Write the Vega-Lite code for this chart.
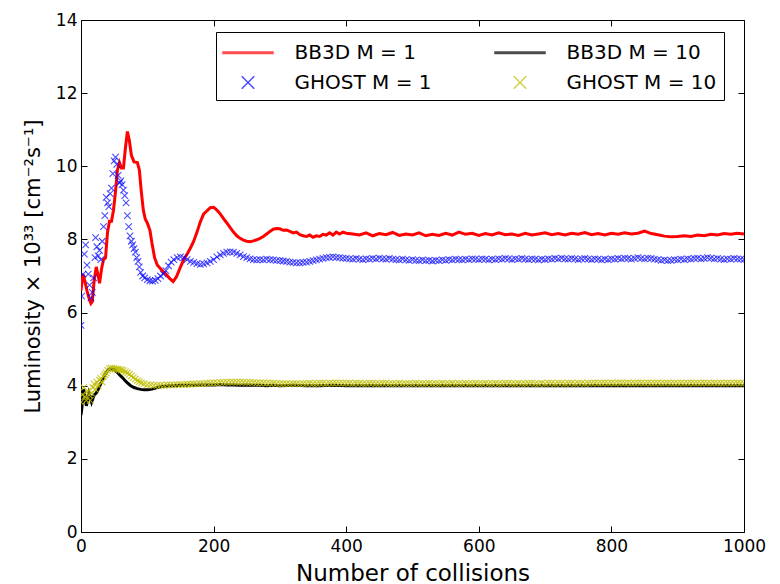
{
  "$schema": "https://vega.github.io/schema/vega-lite/v6.json",
  "width": 663,
  "height": 512,
  "autosize": {"type": "none"},
  "padding": {"left": 81, "top": 20, "right": 36, "bottom": 52},
  "background": "white",
  "config": {
    "view": {"stroke": "black", "strokeWidth": 1},
    "font": "DejaVu Sans",
    "axis": {
      "grid": false,
      "domainColor": "black",
      "tickColor": "black",
      "labelColor": "black",
      "titleColor": "black",
      "labelFont": "DejaVu Sans",
      "labelFontSize": 17,
      "titleFont": "DejaVu Sans",
      "titleFontWeight": "normal",
      "tickSize": -6,
      "labelFlush": false,
      "labelOverlap": false
    }
  },
  "resolve": {"axis": {"x": "independent", "y": "independent"}},
  "layer": [
    {
      "data": {"values": [
      {"s":"BB3D M=1","n":0,"L":6.6},{"s":"BB3D M=1","n":3,"L":7.05},{"s":"BB3D M=1","n":6,"L":6.85},{"s":"BB3D M=1","n":9,"L":6.6},{"s":"BB3D M=1","n":12,"L":6.4},{"s":"BB3D M=1","n":15,"L":6.25},{"s":"BB3D M=1","n":17,"L":6.3},{"s":"BB3D M=1","n":20,"L":6.9},{"s":"BB3D M=1","n":23,"L":7.25},{"s":"BB3D M=1","n":26,"L":7.0},{"s":"BB3D M=1","n":28,"L":6.8},{"s":"BB3D M=1","n":31,"L":7.2},{"s":"BB3D M=1","n":34,"L":7.45},{"s":"BB3D M=1","n":37,"L":7.5},{"s":"BB3D M=1","n":40,"L":8.2},{"s":"BB3D M=1","n":43,"L":8.5},{"s":"BB3D M=1","n":46,"L":8.5},{"s":"BB3D M=1","n":49,"L":8.8},{"s":"BB3D M=1","n":52,"L":9.3},{"s":"BB3D M=1","n":55,"L":9.9},{"s":"BB3D M=1","n":58,"L":10.1},{"s":"BB3D M=1","n":61,"L":9.95},{"s":"BB3D M=1","n":64,"L":9.95},{"s":"BB3D M=1","n":67,"L":10.5},{"s":"BB3D M=1","n":70,"L":10.95},{"s":"BB3D M=1","n":73,"L":10.7},{"s":"BB3D M=1","n":76,"L":10.3},{"s":"BB3D M=1","n":80,"L":10.12},{"s":"BB3D M=1","n":85,"L":10.1},{"s":"BB3D M=1","n":88,"L":9.9},{"s":"BB3D M=1","n":91,"L":9.3},{"s":"BB3D M=1","n":94,"L":8.8},{"s":"BB3D M=1","n":97,"L":8.55},{"s":"BB3D M=1","n":100,"L":8.45},{"s":"BB3D M=1","n":104,"L":8.25},{"s":"BB3D M=1","n":107,"L":7.9},{"s":"BB3D M=1","n":111,"L":7.5},{"s":"BB3D M=1","n":115,"L":7.3},{"s":"BB3D M=1","n":119,"L":7.22},{"s":"BB3D M=1","n":124,"L":7.12},{"s":"BB3D M=1","n":129,"L":7.03},{"s":"BB3D M=1","n":134,"L":6.93},{"s":"BB3D M=1","n":139,"L":6.85},{"s":"BB3D M=1","n":144,"L":6.98},{"s":"BB3D M=1","n":149,"L":7.2},{"s":"BB3D M=1","n":155,"L":7.45},{"s":"BB3D M=1","n":161,"L":7.63},{"s":"BB3D M=1","n":166,"L":7.8},{"s":"BB3D M=1","n":170,"L":7.95},{"s":"BB3D M=1","n":175,"L":8.2},{"s":"BB3D M=1","n":180,"L":8.48},{"s":"BB3D M=1","n":185,"L":8.7},{"s":"BB3D M=1","n":190,"L":8.78},{"s":"BB3D M=1","n":195,"L":8.87},{"s":"BB3D M=1","n":200,"L":8.88},{"s":"BB3D M=1","n":205,"L":8.8},{"s":"BB3D M=1","n":210,"L":8.7},{"s":"BB3D M=1","n":215,"L":8.57},{"s":"BB3D M=1","n":220,"L":8.45},{"s":"BB3D M=1","n":225,"L":8.32},{"s":"BB3D M=1","n":230,"L":8.2},{"s":"BB3D M=1","n":235,"L":8.1},{"s":"BB3D M=1","n":240,"L":8.03},{"s":"BB3D M=1","n":245,"L":7.98},{"s":"BB3D M=1","n":250,"L":7.95},{"s":"BB3D M=1","n":255,"L":7.94},{"s":"BB3D M=1","n":260,"L":7.96},{"s":"BB3D M=1","n":265,"L":7.99},{"s":"BB3D M=1","n":270,"L":8.03},{"s":"BB3D M=1","n":275,"L":8.08},{"s":"BB3D M=1","n":280,"L":8.15},{"s":"BB3D M=1","n":285,"L":8.22},{"s":"BB3D M=1","n":290,"L":8.28},{"s":"BB3D M=1","n":295,"L":8.3},{"s":"BB3D M=1","n":300,"L":8.29},{"s":"BB3D M=1","n":305,"L":8.25},{"s":"BB3D M=1","n":310,"L":8.26},{"s":"BB3D M=1","n":315,"L":8.22},{"s":"BB3D M=1","n":320,"L":8.18},{"s":"BB3D M=1","n":325,"L":8.2},{"s":"BB3D M=1","n":330,"L":8.13},{"s":"BB3D M=1","n":335,"L":8.1},{"s":"BB3D M=1","n":340,"L":8.08},{"s":"BB3D M=1","n":345,"L":8.12},{"s":"BB3D M=1","n":350,"L":8.06},{"s":"BB3D M=1","n":355,"L":8.1},{"s":"BB3D M=1","n":360,"L":8.08},{"s":"BB3D M=1","n":365,"L":8.14},{"s":"BB3D M=1","n":370,"L":8.12},{"s":"BB3D M=1","n":375,"L":8.18},{"s":"BB3D M=1","n":380,"L":8.12},{"s":"BB3D M=1","n":385,"L":8.2},{"s":"BB3D M=1","n":390,"L":8.15},{"s":"BB3D M=1","n":395,"L":8.2},{"s":"BB3D M=1","n":400,"L":8.17},
      {"s":"BB3D M=1","n":410,"L":8.15},{"s":"BB3D M=1","n":420,"L":8.12},{"s":"BB3D M=1","n":430,"L":8.18},{"s":"BB3D M=1","n":440,"L":8.1},{"s":"BB3D M=1","n":450,"L":8.16},{"s":"BB3D M=1","n":460,"L":8.13},{"s":"BB3D M=1","n":470,"L":8.19},{"s":"BB3D M=1","n":480,"L":8.11},{"s":"BB3D M=1","n":490,"L":8.15},{"s":"BB3D M=1","n":500,"L":8.12},{"s":"BB3D M=1","n":510,"L":8.18},{"s":"BB3D M=1","n":520,"L":8.1},{"s":"BB3D M=1","n":530,"L":8.14},{"s":"BB3D M=1","n":540,"L":8.11},{"s":"BB3D M=1","n":550,"L":8.17},{"s":"BB3D M=1","n":560,"L":8.12},{"s":"BB3D M=1","n":570,"L":8.2},{"s":"BB3D M=1","n":580,"L":8.14},{"s":"BB3D M=1","n":590,"L":8.17},{"s":"BB3D M=1","n":600,"L":8.11},{"s":"BB3D M=1","n":610,"L":8.16},{"s":"BB3D M=1","n":620,"L":8.12},{"s":"BB3D M=1","n":630,"L":8.18},{"s":"BB3D M=1","n":640,"L":8.13},{"s":"BB3D M=1","n":650,"L":8.15},{"s":"BB3D M=1","n":660,"L":8.11},{"s":"BB3D M=1","n":670,"L":8.17},{"s":"BB3D M=1","n":680,"L":8.12},{"s":"BB3D M=1","n":690,"L":8.15},{"s":"BB3D M=1","n":700,"L":8.18},{"s":"BB3D M=1","n":710,"L":8.13},{"s":"BB3D M=1","n":720,"L":8.16},{"s":"BB3D M=1","n":730,"L":8.12},{"s":"BB3D M=1","n":740,"L":8.17},{"s":"BB3D M=1","n":750,"L":8.14},{"s":"BB3D M=1","n":760,"L":8.19},{"s":"BB3D M=1","n":770,"L":8.13},{"s":"BB3D M=1","n":780,"L":8.16},{"s":"BB3D M=1","n":790,"L":8.12},{"s":"BB3D M=1","n":800,"L":8.17},{"s":"BB3D M=1","n":810,"L":8.14},{"s":"BB3D M=1","n":820,"L":8.18},{"s":"BB3D M=1","n":830,"L":8.15},{"s":"BB3D M=1","n":840,"L":8.17},{"s":"BB3D M=1","n":850,"L":8.23},{"s":"BB3D M=1","n":860,"L":8.16},{"s":"BB3D M=1","n":870,"L":8.13},{"s":"BB3D M=1","n":880,"L":8.09},{"s":"BB3D M=1","n":890,"L":8.07},{"s":"BB3D M=1","n":900,"L":8.08},{"s":"BB3D M=1","n":910,"L":8.1},{"s":"BB3D M=1","n":920,"L":8.08},{"s":"BB3D M=1","n":930,"L":8.12},{"s":"BB3D M=1","n":940,"L":8.1},{"s":"BB3D M=1","n":950,"L":8.14},{"s":"BB3D M=1","n":960,"L":8.12},{"s":"BB3D M=1","n":970,"L":8.16},{"s":"BB3D M=1","n":980,"L":8.14},{"s":"BB3D M=1","n":990,"L":8.17},{"s":"BB3D M=1","n":1000,"L":8.15}
      ]},
      "mark": {"type": "line", "strokeWidth": 3, "clip": true},
      "encoding": {
        "x": {"field": "n", "type": "quantitative", "scale": {"domain": [0, 1000], "nice": false},
              "axis": {"orient": "bottom", "title": "Number of collisions", "titleFontSize": 23, "values": [0,200,400,600,800,1000], "format": "d", "labelPadding": 12, "titleX": 331.5, "titleY": 48, "titleBaseline": "alphabetic", "titleAnchor": "middle", "titleAlign": "center"}},
        "y": {"field": "L", "type": "quantitative", "scale": {"domain": [0, 14], "nice": false},
              "axis": {"orient": "left", "title": "Luminosity × 10³³ [cm⁻²s⁻¹]", "titleFontSize": 21, "values": [0,2,4,6,8,10,12,14], "format": "d", "labelPadding": 10, "titleX": -42, "titleY": 246, "titleBaseline": "alphabetic", "titleAngle": -90, "titleAlign": "center"}},
        "color": {"field": "s", "type": "nominal",
          "scale": {"domain": ["BB3D M=1", "GHOST M=1", "BB3D M=10", "GHOST M=10"], "range": ["#ff0000", "#0000ff", "#000000", "#bfbf00"]},
          "legend": {"title": null, "orient": "none", "legendX": 135, "legendY": 12, "columns": 2, "strokeColor": "black", "fillColor": "white", "padding": 7, "cornerRadius": 0, "labelFontSize": 20, "labelFont": "DejaVu Sans", "labelColor": "black",
            "labelExpr": "replace(datum.label, '=', ' = ')",
            "symbolSize": 625, "symbolStrokeWidth": 1.5, "symbolOpacity": 1, "symbolFillColor": "transparent",
            "symbolOffset": 11.5, "labelOffset": 33, "columnPadding": 60, "rowPadding": 6}
        }
      }
    },
    {
      "data": {"values": [
      {"s":"GHOST M=1","n":0,"L":5.65},{"s":"GHOST M=1","n":1,"L":6.45},{"s":"GHOST M=1","n":3,"L":7.05},{"s":"GHOST M=1","n":5,"L":7.6},{"s":"GHOST M=1","n":7,"L":7.85},{"s":"GHOST M=1","n":9,"L":7.3},{"s":"GHOST M=1","n":11,"L":7.05},{"s":"GHOST M=1","n":13,"L":6.75},{"s":"GHOST M=1","n":15,"L":6.4},{"s":"GHOST M=1","n":17,"L":6.55},{"s":"GHOST M=1","n":19,"L":6.95},{"s":"GHOST M=1","n":21,"L":7.5},{"s":"GHOST M=1","n":22,"L":8.05},{"s":"GHOST M=1","n":24,"L":7.8},{"s":"GHOST M=1","n":26,"L":7.55},{"s":"GHOST M=1","n":28,"L":7.7},{"s":"GHOST M=1","n":30,"L":7.45},{"s":"GHOST M=1","n":32,"L":7.95},{"s":"GHOST M=1","n":34,"L":8.35},{"s":"GHOST M=1","n":36,"L":8.65},{"s":"GHOST M=1","n":38,"L":9.15},{"s":"GHOST M=1","n":40,"L":9.0},{"s":"GHOST M=1","n":42,"L":8.9},{"s":"GHOST M=1","n":44,"L":9.25},{"s":"GHOST M=1","n":46,"L":9.4},{"s":"GHOST M=1","n":48,"L":9.8},{"s":"GHOST M=1","n":50,"L":10.15},{"s":"GHOST M=1","n":52,"L":10.25},{"s":"GHOST M=1","n":54,"L":10.05},{"s":"GHOST M=1","n":56,"L":9.75},{"s":"GHOST M=1","n":58,"L":9.55},{"s":"GHOST M=1","n":60,"L":9.6},{"s":"GHOST M=1","n":62,"L":9.5},{"s":"GHOST M=1","n":64,"L":9.35},{"s":"GHOST M=1","n":66,"L":9.2},{"s":"GHOST M=1","n":68,"L":9.0},{"s":"GHOST M=1","n":70,"L":8.65},{"s":"GHOST M=1","n":72,"L":8.35},{"s":"GHOST M=1","n":74,"L":8.1},{"s":"GHOST M=1","n":76,"L":7.95},{"s":"GHOST M=1","n":78,"L":7.85},{"s":"GHOST M=1","n":80,"L":7.75},{"s":"GHOST M=1","n":82,"L":7.65},{"s":"GHOST M=1","n":84,"L":7.5},{"s":"GHOST M=1","n":86,"L":7.4},{"s":"GHOST M=1","n":88,"L":7.25},{"s":"GHOST M=1","n":90,"L":7.1},{"s":"GHOST M=1","n":93,"L":7.0},{"s":"GHOST M=1","n":96,"L":6.95},{"s":"GHOST M=1","n":100,"L":6.9},{"s":"GHOST M=1","n":104,"L":6.87},{"s":"GHOST M=1","n":108,"L":6.86},{"s":"GHOST M=1","n":112,"L":6.88},{"s":"GHOST M=1","n":116,"L":6.93},{"s":"GHOST M=1","n":120,"L":7.0},{"s":"GHOST M=1","n":124,"L":7.05},{"s":"GHOST M=1","n":128,"L":7.15},{"s":"GHOST M=1","n":132,"L":7.28},{"s":"GHOST M=1","n":136,"L":7.38},{"s":"GHOST M=1","n":140,"L":7.45},{"s":"GHOST M=1","n":145,"L":7.5},{"s":"GHOST M=1","n":150,"L":7.52},{"s":"GHOST M=1","n":155,"L":7.5},{"s":"GHOST M=1","n":160,"L":7.45},{"s":"GHOST M=1","n":165,"L":7.4},{"s":"GHOST M=1","n":170,"L":7.37},{"s":"GHOST M=1","n":175,"L":7.34},{"s":"GHOST M=1","n":180,"L":7.32},{"s":"GHOST M=1","n":185,"L":7.33},{"s":"GHOST M=1","n":190,"L":7.36},{"s":"GHOST M=1","n":195,"L":7.4},{"s":"GHOST M=1","n":200,"L":7.45},{"s":"GHOST M=1","n":205,"L":7.52},{"s":"GHOST M=1","n":210,"L":7.58},{"s":"GHOST M=1","n":215,"L":7.62},{"s":"GHOST M=1","n":220,"L":7.65},{"s":"GHOST M=1","n":225,"L":7.66},{"s":"GHOST M=1","n":230,"L":7.65},{"s":"GHOST M=1","n":235,"L":7.62},{"s":"GHOST M=1","n":240,"L":7.58},{"s":"GHOST M=1","n":245,"L":7.53},{"s":"GHOST M=1","n":250,"L":7.5},{"s":"GHOST M=1","n":255,"L":7.47},{"s":"GHOST M=1","n":260,"L":7.45},{"s":"GHOST M=1","n":265,"L":7.44},{"s":"GHOST M=1","n":270,"L":7.45},{"s":"GHOST M=1","n":275,"L":7.44},{"s":"GHOST M=1","n":280,"L":7.46},{"s":"GHOST M=1","n":285,"L":7.45},{"s":"GHOST M=1","n":290,"L":7.44},{"s":"GHOST M=1","n":295,"L":7.43},{"s":"GHOST M=1","n":300,"L":7.42},{"s":"GHOST M=1","n":305,"L":7.41},{"s":"GHOST M=1","n":310,"L":7.4},{"s":"GHOST M=1","n":315,"L":7.38},{"s":"GHOST M=1","n":320,"L":7.37},{"s":"GHOST M=1","n":325,"L":7.36},{"s":"GHOST M=1","n":330,"L":7.36},{"s":"GHOST M=1","n":335,"L":7.37},{"s":"GHOST M=1","n":340,"L":7.38},{"s":"GHOST M=1","n":345,"L":7.4},{"s":"GHOST M=1","n":350,"L":7.42},{"s":"GHOST M=1","n":355,"L":7.44},{"s":"GHOST M=1","n":360,"L":7.46},{"s":"GHOST M=1","n":365,"L":7.48},{"s":"GHOST M=1","n":370,"L":7.5},{"s":"GHOST M=1","n":375,"L":7.51},{"s":"GHOST M=1","n":380,"L":7.52},{"s":"GHOST M=1","n":385,"L":7.51},{"s":"GHOST M=1","n":390,"L":7.5},{"s":"GHOST M=1","n":395,"L":7.49},{"s":"GHOST M=1","n":400,"L":7.48},
      {"s":"GHOST M=1","n":405,"L":7.47},{"s":"GHOST M=1","n":410,"L":7.46},{"s":"GHOST M=1","n":415,"L":7.48},{"s":"GHOST M=1","n":420,"L":7.46},{"s":"GHOST M=1","n":425,"L":7.45},{"s":"GHOST M=1","n":430,"L":7.47},{"s":"GHOST M=1","n":435,"L":7.46},{"s":"GHOST M=1","n":440,"L":7.48},{"s":"GHOST M=1","n":445,"L":7.47},{"s":"GHOST M=1","n":450,"L":7.49},{"s":"GHOST M=1","n":455,"L":7.47},{"s":"GHOST M=1","n":460,"L":7.46},{"s":"GHOST M=1","n":465,"L":7.48},{"s":"GHOST M=1","n":470,"L":7.46},{"s":"GHOST M=1","n":475,"L":7.45},{"s":"GHOST M=1","n":480,"L":7.44},{"s":"GHOST M=1","n":485,"L":7.46},{"s":"GHOST M=1","n":490,"L":7.44},{"s":"GHOST M=1","n":495,"L":7.43},{"s":"GHOST M=1","n":500,"L":7.45},{"s":"GHOST M=1","n":505,"L":7.43},{"s":"GHOST M=1","n":510,"L":7.42},{"s":"GHOST M=1","n":515,"L":7.44},{"s":"GHOST M=1","n":520,"L":7.42},{"s":"GHOST M=1","n":525,"L":7.43},{"s":"GHOST M=1","n":530,"L":7.41},{"s":"GHOST M=1","n":535,"L":7.43},{"s":"GHOST M=1","n":540,"L":7.42},{"s":"GHOST M=1","n":545,"L":7.44},{"s":"GHOST M=1","n":550,"L":7.43},{"s":"GHOST M=1","n":555,"L":7.45},{"s":"GHOST M=1","n":560,"L":7.44},{"s":"GHOST M=1","n":565,"L":7.46},{"s":"GHOST M=1","n":570,"L":7.45},{"s":"GHOST M=1","n":575,"L":7.44},{"s":"GHOST M=1","n":580,"L":7.46},{"s":"GHOST M=1","n":585,"L":7.45},{"s":"GHOST M=1","n":590,"L":7.47},{"s":"GHOST M=1","n":595,"L":7.46},{"s":"GHOST M=1","n":600,"L":7.45},{"s":"GHOST M=1","n":605,"L":7.47},{"s":"GHOST M=1","n":610,"L":7.46},{"s":"GHOST M=1","n":615,"L":7.44},{"s":"GHOST M=1","n":620,"L":7.46},{"s":"GHOST M=1","n":625,"L":7.45},{"s":"GHOST M=1","n":630,"L":7.47},{"s":"GHOST M=1","n":635,"L":7.46},{"s":"GHOST M=1","n":640,"L":7.48},{"s":"GHOST M=1","n":645,"L":7.47},{"s":"GHOST M=1","n":650,"L":7.45},{"s":"GHOST M=1","n":655,"L":7.47},{"s":"GHOST M=1","n":660,"L":7.46},{"s":"GHOST M=1","n":665,"L":7.48},{"s":"GHOST M=1","n":670,"L":7.46},{"s":"GHOST M=1","n":675,"L":7.45},{"s":"GHOST M=1","n":680,"L":7.47},{"s":"GHOST M=1","n":685,"L":7.46},{"s":"GHOST M=1","n":690,"L":7.44},{"s":"GHOST M=1","n":695,"L":7.46},{"s":"GHOST M=1","n":700,"L":7.45},{"s":"GHOST M=1","n":705,"L":7.47},{"s":"GHOST M=1","n":710,"L":7.46},{"s":"GHOST M=1","n":715,"L":7.48},{"s":"GHOST M=1","n":720,"L":7.47},{"s":"GHOST M=1","n":725,"L":7.49},{"s":"GHOST M=1","n":730,"L":7.47},{"s":"GHOST M=1","n":735,"L":7.46},{"s":"GHOST M=1","n":740,"L":7.48},{"s":"GHOST M=1","n":745,"L":7.47},{"s":"GHOST M=1","n":750,"L":7.45},{"s":"GHOST M=1","n":755,"L":7.47},{"s":"GHOST M=1","n":760,"L":7.48},{"s":"GHOST M=1","n":765,"L":7.46},{"s":"GHOST M=1","n":770,"L":7.45},{"s":"GHOST M=1","n":775,"L":7.47},{"s":"GHOST M=1","n":780,"L":7.46},{"s":"GHOST M=1","n":785,"L":7.44},{"s":"GHOST M=1","n":790,"L":7.46},{"s":"GHOST M=1","n":795,"L":7.45},{"s":"GHOST M=1","n":800,"L":7.47},{"s":"GHOST M=1","n":805,"L":7.46},{"s":"GHOST M=1","n":810,"L":7.48},{"s":"GHOST M=1","n":815,"L":7.47},{"s":"GHOST M=1","n":820,"L":7.49},{"s":"GHOST M=1","n":825,"L":7.48},{"s":"GHOST M=1","n":830,"L":7.46},{"s":"GHOST M=1","n":835,"L":7.48},{"s":"GHOST M=1","n":840,"L":7.5},{"s":"GHOST M=1","n":845,"L":7.48},{"s":"GHOST M=1","n":850,"L":7.47},{"s":"GHOST M=1","n":855,"L":7.49},{"s":"GHOST M=1","n":860,"L":7.48},{"s":"GHOST M=1","n":865,"L":7.46},{"s":"GHOST M=1","n":870,"L":7.45},{"s":"GHOST M=1","n":875,"L":7.43},{"s":"GHOST M=1","n":880,"L":7.44},{"s":"GHOST M=1","n":885,"L":7.42},{"s":"GHOST M=1","n":890,"L":7.43},{"s":"GHOST M=1","n":895,"L":7.45},{"s":"GHOST M=1","n":900,"L":7.44},{"s":"GHOST M=1","n":905,"L":7.46},{"s":"GHOST M=1","n":910,"L":7.45},{"s":"GHOST M=1","n":915,"L":7.47},{"s":"GHOST M=1","n":920,"L":7.46},{"s":"GHOST M=1","n":925,"L":7.48},{"s":"GHOST M=1","n":930,"L":7.49},{"s":"GHOST M=1","n":935,"L":7.47},{"s":"GHOST M=1","n":940,"L":7.48},{"s":"GHOST M=1","n":945,"L":7.5},{"s":"GHOST M=1","n":950,"L":7.49},{"s":"GHOST M=1","n":955,"L":7.47},{"s":"GHOST M=1","n":960,"L":7.48},{"s":"GHOST M=1","n":965,"L":7.46},{"s":"GHOST M=1","n":970,"L":7.45},{"s":"GHOST M=1","n":975,"L":7.47},{"s":"GHOST M=1","n":980,"L":7.46},{"s":"GHOST M=1","n":985,"L":7.48},{"s":"GHOST M=1","n":990,"L":7.47},{"s":"GHOST M=1","n":995,"L":7.46},{"s":"GHOST M=1","n":1000,"L":7.45}
      ]},
      "mark": {"type": "point", "filled": false, "size": 169, "strokeWidth": 1.1, "opacity": 0.7, "clip": true},
      "encoding": {
        "x": {"field": "n", "type": "quantitative", "axis": null},
        "y": {"field": "L", "type": "quantitative", "axis": null},
        "color": {"field": "s", "type": "nominal"},
        "shape": {"field": "s", "type": "nominal",
          "scale": {"domain": ["BB3D M=1", "GHOST M=1", "BB3D M=10", "GHOST M=10"], "range": ["M-2,-0.06H2V0.06H-2Z", "M-0.5,-0.5L0.5,0.5M-0.5,0.5L0.5,-0.5", "M-2,-0.06H2V0.06H-2Z", "M-0.5,-0.5L0.5,0.5M-0.5,0.5L0.5,-0.5"]},
          "legend": {"title": null, "orient": "none", "legendX": 135, "legendY": 12, "columns": 2, "strokeColor": "black", "fillColor": "white", "padding": 7, "cornerRadius": 0, "labelFontSize": 20, "labelFont": "DejaVu Sans", "labelColor": "black",
            "labelExpr": "replace(datum.label, '=', ' = ')",
            "symbolSize": 625, "symbolStrokeWidth": 1.5, "symbolOpacity": 1, "symbolFillColor": "transparent",
            "symbolOffset": 11.5, "labelOffset": 33, "columnPadding": 60, "rowPadding": 6}
        }
      }
    },
    {
      "data": {"values": [
      {"s":"BB3D M=10","n":0,"L":3.2},{"s":"BB3D M=10","n":2,"L":3.5},{"s":"BB3D M=10","n":4,"L":3.9},{"s":"BB3D M=10","n":6,"L":3.7},{"s":"BB3D M=10","n":8,"L":3.45},{"s":"BB3D M=10","n":10,"L":3.6},{"s":"BB3D M=10","n":12,"L":3.8},{"s":"BB3D M=10","n":14,"L":3.7},{"s":"BB3D M=10","n":16,"L":3.55},{"s":"BB3D M=10","n":18,"L":3.65},{"s":"BB3D M=10","n":20,"L":3.75},{"s":"BB3D M=10","n":23,"L":3.8},{"s":"BB3D M=10","n":26,"L":3.9},{"s":"BB3D M=10","n":29,"L":4.02},{"s":"BB3D M=10","n":32,"L":4.15},{"s":"BB3D M=10","n":35,"L":4.27},{"s":"BB3D M=10","n":38,"L":4.36},{"s":"BB3D M=10","n":41,"L":4.43},{"s":"BB3D M=10","n":44,"L":4.46},{"s":"BB3D M=10","n":47,"L":4.46},{"s":"BB3D M=10","n":50,"L":4.44},{"s":"BB3D M=10","n":54,"L":4.38},{"s":"BB3D M=10","n":58,"L":4.3},{"s":"BB3D M=10","n":62,"L":4.23},{"s":"BB3D M=10","n":66,"L":4.15},{"s":"BB3D M=10","n":70,"L":4.08},{"s":"BB3D M=10","n":75,"L":4.0},{"s":"BB3D M=10","n":80,"L":3.95},{"s":"BB3D M=10","n":85,"L":3.92},{"s":"BB3D M=10","n":90,"L":3.9},{"s":"BB3D M=10","n":95,"L":3.89},{"s":"BB3D M=10","n":100,"L":3.89},{"s":"BB3D M=10","n":105,"L":3.9},{"s":"BB3D M=10","n":110,"L":3.92},{"s":"BB3D M=10","n":115,"L":3.95},{"s":"BB3D M=10","n":120,"L":3.97},{"s":"BB3D M=10","n":130,"L":3.99},{"s":"BB3D M=10","n":140,"L":4.0},{"s":"BB3D M=10","n":150,"L":4.01},
      {"s":"BB3D M=10","n":160,"L":4.01},{"s":"BB3D M=10","n":170,"L":4.01},{"s":"BB3D M=10","n":180,"L":4.02},{"s":"BB3D M=10","n":190,"L":4.02},{"s":"BB3D M=10","n":200,"L":4.02},{"s":"BB3D M=10","n":210,"L":4.03},{"s":"BB3D M=10","n":220,"L":4.02},{"s":"BB3D M=10","n":230,"L":4.02},{"s":"BB3D M=10","n":240,"L":4.01},{"s":"BB3D M=10","n":250,"L":4.02},{"s":"BB3D M=10","n":260,"L":4.01},{"s":"BB3D M=10","n":270,"L":4.01},{"s":"BB3D M=10","n":280,"L":4.0},{"s":"BB3D M=10","n":290,"L":4.01},{"s":"BB3D M=10","n":300,"L":4.0},{"s":"BB3D M=10","n":320,"L":4.01},{"s":"BB3D M=10","n":340,"L":4.0},{"s":"BB3D M=10","n":360,"L":4.0},{"s":"BB3D M=10","n":380,"L":4.01},{"s":"BB3D M=10","n":400,"L":4.0},{"s":"BB3D M=10","n":420,"L":4.0},{"s":"BB3D M=10","n":440,"L":4.0},{"s":"BB3D M=10","n":460,"L":4.0},{"s":"BB3D M=10","n":480,"L":4.0},{"s":"BB3D M=10","n":500,"L":4.0},{"s":"BB3D M=10","n":520,"L":4.0},{"s":"BB3D M=10","n":540,"L":4.0},{"s":"BB3D M=10","n":560,"L":4.0},{"s":"BB3D M=10","n":580,"L":4.0},{"s":"BB3D M=10","n":600,"L":4.0},{"s":"BB3D M=10","n":620,"L":4.0},{"s":"BB3D M=10","n":640,"L":4.0},{"s":"BB3D M=10","n":660,"L":4.0},{"s":"BB3D M=10","n":680,"L":4.0},{"s":"BB3D M=10","n":700,"L":4.0},{"s":"BB3D M=10","n":720,"L":4.0},{"s":"BB3D M=10","n":740,"L":4.0},{"s":"BB3D M=10","n":760,"L":4.0},{"s":"BB3D M=10","n":780,"L":4.0},{"s":"BB3D M=10","n":800,"L":4.0},{"s":"BB3D M=10","n":820,"L":4.0},{"s":"BB3D M=10","n":840,"L":4.0},{"s":"BB3D M=10","n":860,"L":4.0},{"s":"BB3D M=10","n":880,"L":4.0},{"s":"BB3D M=10","n":900,"L":4.0},{"s":"BB3D M=10","n":920,"L":4.0},{"s":"BB3D M=10","n":940,"L":4.0},{"s":"BB3D M=10","n":960,"L":4.0},{"s":"BB3D M=10","n":980,"L":4.0},{"s":"BB3D M=10","n":1000,"L":4.0}
      ]},
      "mark": {"type": "line", "strokeWidth": 3, "clip": true},
      "encoding": {
        "x": {"field": "n", "type": "quantitative", "axis": null},
        "y": {"field": "L", "type": "quantitative", "axis": null},
        "color": {"field": "s", "type": "nominal"}
      }
    },
    {
      "data": {"values": [
      {"s":"GHOST M=10","n":0,"L":3.55},{"s":"GHOST M=10","n":2,"L":3.75},{"s":"GHOST M=10","n":4,"L":3.95},{"s":"GHOST M=10","n":6,"L":3.7},{"s":"GHOST M=10","n":8,"L":3.6},{"s":"GHOST M=10","n":10,"L":3.85},{"s":"GHOST M=10","n":12,"L":3.75},{"s":"GHOST M=10","n":14,"L":3.6},{"s":"GHOST M=10","n":16,"L":3.8},{"s":"GHOST M=10","n":18,"L":3.95},{"s":"GHOST M=10","n":20,"L":4.05},{"s":"GHOST M=10","n":22,"L":3.9},{"s":"GHOST M=10","n":24,"L":4.1},{"s":"GHOST M=10","n":26,"L":4.0},{"s":"GHOST M=10","n":28,"L":4.15},{"s":"GHOST M=10","n":30,"L":4.2},{"s":"GHOST M=10","n":32,"L":4.1},{"s":"GHOST M=10","n":34,"L":4.25},{"s":"GHOST M=10","n":36,"L":4.3},{"s":"GHOST M=10","n":38,"L":4.35},{"s":"GHOST M=10","n":40,"L":4.42},{"s":"GHOST M=10","n":43,"L":4.47},{"s":"GHOST M=10","n":46,"L":4.48},{"s":"GHOST M=10","n":49,"L":4.47},{"s":"GHOST M=10","n":52,"L":4.46},{"s":"GHOST M=10","n":55,"L":4.45},{"s":"GHOST M=10","n":58,"L":4.44},{"s":"GHOST M=10","n":61,"L":4.43},{"s":"GHOST M=10","n":64,"L":4.41},{"s":"GHOST M=10","n":67,"L":4.38},{"s":"GHOST M=10","n":70,"L":4.35},{"s":"GHOST M=10","n":73,"L":4.31},{"s":"GHOST M=10","n":76,"L":4.27},{"s":"GHOST M=10","n":79,"L":4.22},{"s":"GHOST M=10","n":82,"L":4.18},{"s":"GHOST M=10","n":85,"L":4.14},{"s":"GHOST M=10","n":88,"L":4.11},{"s":"GHOST M=10","n":91,"L":4.08},{"s":"GHOST M=10","n":95,"L":4.05},{"s":"GHOST M=10","n":100,"L":4.03},{"s":"GHOST M=10","n":105,"L":4.02},{"s":"GHOST M=10","n":110,"L":4.01},{"s":"GHOST M=10","n":115,"L":4.01},{"s":"GHOST M=10","n":120,"L":4.01},{"s":"GHOST M=10","n":125,"L":4.01},{"s":"GHOST M=10","n":130,"L":4.02},{"s":"GHOST M=10","n":135,"L":4.02},{"s":"GHOST M=10","n":140,"L":4.02},{"s":"GHOST M=10","n":145,"L":4.03},{"s":"GHOST M=10","n":150,"L":4.03},
      {"s":"GHOST M=10","n":155,"L":4.03},{"s":"GHOST M=10","n":160,"L":4.04},{"s":"GHOST M=10","n":165,"L":4.04},{"s":"GHOST M=10","n":170,"L":4.05},{"s":"GHOST M=10","n":175,"L":4.05},{"s":"GHOST M=10","n":180,"L":4.06},{"s":"GHOST M=10","n":185,"L":4.06},{"s":"GHOST M=10","n":190,"L":4.07},{"s":"GHOST M=10","n":195,"L":4.07},{"s":"GHOST M=10","n":200,"L":4.08},{"s":"GHOST M=10","n":205,"L":4.08},{"s":"GHOST M=10","n":210,"L":4.09},{"s":"GHOST M=10","n":215,"L":4.09},{"s":"GHOST M=10","n":220,"L":4.1},{"s":"GHOST M=10","n":225,"L":4.1},{"s":"GHOST M=10","n":230,"L":4.1},{"s":"GHOST M=10","n":235,"L":4.1},{"s":"GHOST M=10","n":240,"L":4.1},{"s":"GHOST M=10","n":245,"L":4.1},{"s":"GHOST M=10","n":250,"L":4.09},{"s":"GHOST M=10","n":255,"L":4.09},{"s":"GHOST M=10","n":260,"L":4.09},{"s":"GHOST M=10","n":265,"L":4.08},{"s":"GHOST M=10","n":270,"L":4.08},{"s":"GHOST M=10","n":275,"L":4.08},{"s":"GHOST M=10","n":280,"L":4.07},{"s":"GHOST M=10","n":285,"L":4.07},{"s":"GHOST M=10","n":290,"L":4.07},{"s":"GHOST M=10","n":295,"L":4.06},{"s":"GHOST M=10","n":300,"L":4.06},
      {"s":"GHOST M=10","n":305,"L":4.06},{"s":"GHOST M=10","n":310,"L":4.06},{"s":"GHOST M=10","n":315,"L":4.05},{"s":"GHOST M=10","n":320,"L":4.06},{"s":"GHOST M=10","n":325,"L":4.06},{"s":"GHOST M=10","n":330,"L":4.05},{"s":"GHOST M=10","n":335,"L":4.06},{"s":"GHOST M=10","n":340,"L":4.06},{"s":"GHOST M=10","n":345,"L":4.07},{"s":"GHOST M=10","n":350,"L":4.06},{"s":"GHOST M=10","n":355,"L":4.06},{"s":"GHOST M=10","n":360,"L":4.07},{"s":"GHOST M=10","n":365,"L":4.07},{"s":"GHOST M=10","n":370,"L":4.06},{"s":"GHOST M=10","n":375,"L":4.07},{"s":"GHOST M=10","n":380,"L":4.07},{"s":"GHOST M=10","n":385,"L":4.08},{"s":"GHOST M=10","n":390,"L":4.07},{"s":"GHOST M=10","n":395,"L":4.07},{"s":"GHOST M=10","n":400,"L":4.07},{"s":"GHOST M=10","n":405,"L":4.07},{"s":"GHOST M=10","n":410,"L":4.06},{"s":"GHOST M=10","n":415,"L":4.07},{"s":"GHOST M=10","n":420,"L":4.07},{"s":"GHOST M=10","n":425,"L":4.06},{"s":"GHOST M=10","n":430,"L":4.06},{"s":"GHOST M=10","n":435,"L":4.07},{"s":"GHOST M=10","n":440,"L":4.07},{"s":"GHOST M=10","n":445,"L":4.06},{"s":"GHOST M=10","n":450,"L":4.06},{"s":"GHOST M=10","n":455,"L":4.07},{"s":"GHOST M=10","n":460,"L":4.07},{"s":"GHOST M=10","n":465,"L":4.06},{"s":"GHOST M=10","n":470,"L":4.06},{"s":"GHOST M=10","n":475,"L":4.06},{"s":"GHOST M=10","n":480,"L":4.07},{"s":"GHOST M=10","n":485,"L":4.06},{"s":"GHOST M=10","n":490,"L":4.06},{"s":"GHOST M=10","n":495,"L":4.06},{"s":"GHOST M=10","n":500,"L":4.06},{"s":"GHOST M=10","n":505,"L":4.07},{"s":"GHOST M=10","n":510,"L":4.06},{"s":"GHOST M=10","n":515,"L":4.06},{"s":"GHOST M=10","n":520,"L":4.06},{"s":"GHOST M=10","n":525,"L":4.07},{"s":"GHOST M=10","n":530,"L":4.06},{"s":"GHOST M=10","n":535,"L":4.06},{"s":"GHOST M=10","n":540,"L":4.06},{"s":"GHOST M=10","n":545,"L":4.07},{"s":"GHOST M=10","n":550,"L":4.06},{"s":"GHOST M=10","n":555,"L":4.06},{"s":"GHOST M=10","n":560,"L":4.07},{"s":"GHOST M=10","n":565,"L":4.06},{"s":"GHOST M=10","n":570,"L":4.06},{"s":"GHOST M=10","n":575,"L":4.06},{"s":"GHOST M=10","n":580,"L":4.07},{"s":"GHOST M=10","n":585,"L":4.06},{"s":"GHOST M=10","n":590,"L":4.06},{"s":"GHOST M=10","n":595,"L":4.07},{"s":"GHOST M=10","n":600,"L":4.06},{"s":"GHOST M=10","n":605,"L":4.06},{"s":"GHOST M=10","n":610,"L":4.07},{"s":"GHOST M=10","n":615,"L":4.06},{"s":"GHOST M=10","n":620,"L":4.06},{"s":"GHOST M=10","n":625,"L":4.07},{"s":"GHOST M=10","n":630,"L":4.06},{"s":"GHOST M=10","n":635,"L":4.06},{"s":"GHOST M=10","n":640,"L":4.07},{"s":"GHOST M=10","n":645,"L":4.07},{"s":"GHOST M=10","n":650,"L":4.06},{"s":"GHOST M=10","n":655,"L":4.06},{"s":"GHOST M=10","n":660,"L":4.07},{"s":"GHOST M=10","n":665,"L":4.06},{"s":"GHOST M=10","n":670,"L":4.06},{"s":"GHOST M=10","n":675,"L":4.07},{"s":"GHOST M=10","n":680,"L":4.07},{"s":"GHOST M=10","n":685,"L":4.06},{"s":"GHOST M=10","n":690,"L":4.06},{"s":"GHOST M=10","n":695,"L":4.07},{"s":"GHOST M=10","n":700,"L":4.06},{"s":"GHOST M=10","n":705,"L":4.07},{"s":"GHOST M=10","n":710,"L":4.07},{"s":"GHOST M=10","n":715,"L":4.06},{"s":"GHOST M=10","n":720,"L":4.07},{"s":"GHOST M=10","n":725,"L":4.07},{"s":"GHOST M=10","n":730,"L":4.06},{"s":"GHOST M=10","n":735,"L":4.07},{"s":"GHOST M=10","n":740,"L":4.07},{"s":"GHOST M=10","n":745,"L":4.06},{"s":"GHOST M=10","n":750,"L":4.07},{"s":"GHOST M=10","n":755,"L":4.07},{"s":"GHOST M=10","n":760,"L":4.06},{"s":"GHOST M=10","n":765,"L":4.07},{"s":"GHOST M=10","n":770,"L":4.07},{"s":"GHOST M=10","n":775,"L":4.08},{"s":"GHOST M=10","n":780,"L":4.07},{"s":"GHOST M=10","n":785,"L":4.07},{"s":"GHOST M=10","n":790,"L":4.08},{"s":"GHOST M=10","n":795,"L":4.07},{"s":"GHOST M=10","n":800,"L":4.08},{"s":"GHOST M=10","n":805,"L":4.07},{"s":"GHOST M=10","n":810,"L":4.08},{"s":"GHOST M=10","n":815,"L":4.08},{"s":"GHOST M=10","n":820,"L":4.07},{"s":"GHOST M=10","n":825,"L":4.08},{"s":"GHOST M=10","n":830,"L":4.07},{"s":"GHOST M=10","n":835,"L":4.07},{"s":"GHOST M=10","n":840,"L":4.08},{"s":"GHOST M=10","n":845,"L":4.08},{"s":"GHOST M=10","n":850,"L":4.07},{"s":"GHOST M=10","n":855,"L":4.08},{"s":"GHOST M=10","n":860,"L":4.07},{"s":"GHOST M=10","n":865,"L":4.07},{"s":"GHOST M=10","n":870,"L":4.08},{"s":"GHOST M=10","n":875,"L":4.07},{"s":"GHOST M=10","n":880,"L":4.07},{"s":"GHOST M=10","n":885,"L":4.08},{"s":"GHOST M=10","n":890,"L":4.07},{"s":"GHOST M=10","n":895,"L":4.07},{"s":"GHOST M=10","n":900,"L":4.07},{"s":"GHOST M=10","n":905,"L":4.08},{"s":"GHOST M=10","n":910,"L":4.07},{"s":"GHOST M=10","n":915,"L":4.07},{"s":"GHOST M=10","n":920,"L":4.08},{"s":"GHOST M=10","n":925,"L":4.07},{"s":"GHOST M=10","n":930,"L":4.07},{"s":"GHOST M=10","n":935,"L":4.07},{"s":"GHOST M=10","n":940,"L":4.08},{"s":"GHOST M=10","n":945,"L":4.07},{"s":"GHOST M=10","n":950,"L":4.07},{"s":"GHOST M=10","n":955,"L":4.08},{"s":"GHOST M=10","n":960,"L":4.07},{"s":"GHOST M=10","n":965,"L":4.07},{"s":"GHOST M=10","n":970,"L":4.07},{"s":"GHOST M=10","n":975,"L":4.08},{"s":"GHOST M=10","n":980,"L":4.07},{"s":"GHOST M=10","n":985,"L":4.07},{"s":"GHOST M=10","n":990,"L":4.08},{"s":"GHOST M=10","n":995,"L":4.07},{"s":"GHOST M=10","n":1000,"L":4.07}
      ]},
      "mark": {"type": "point", "filled": false, "size": 169, "strokeWidth": 1.1, "opacity": 0.85, "clip": true},
      "encoding": {
        "x": {"field": "n", "type": "quantitative", "axis": null},
        "y": {"field": "L", "type": "quantitative", "axis": null},
        "color": {"field": "s", "type": "nominal"},
        "shape": {"field": "s", "type": "nominal"}
      }
    },
    {
      "data": {"values": [{"n": 0, "L": 0}, {"n": 1000, "L": 14}]},
      "mark": {"type": "point", "opacity": 0},
      "encoding": {
        "x": {"field": "n", "type": "quantitative", "axis": {"orient": "top", "title": null, "labels": false, "domain": false, "values": [0,200,400,600,800,1000]}},
        "y": {"field": "L", "type": "quantitative", "axis": {"orient": "right", "title": null, "labels": false, "domain": false, "values": [0,2,4,6,8,10,12,14]}}
      }
    }
  ]
}
